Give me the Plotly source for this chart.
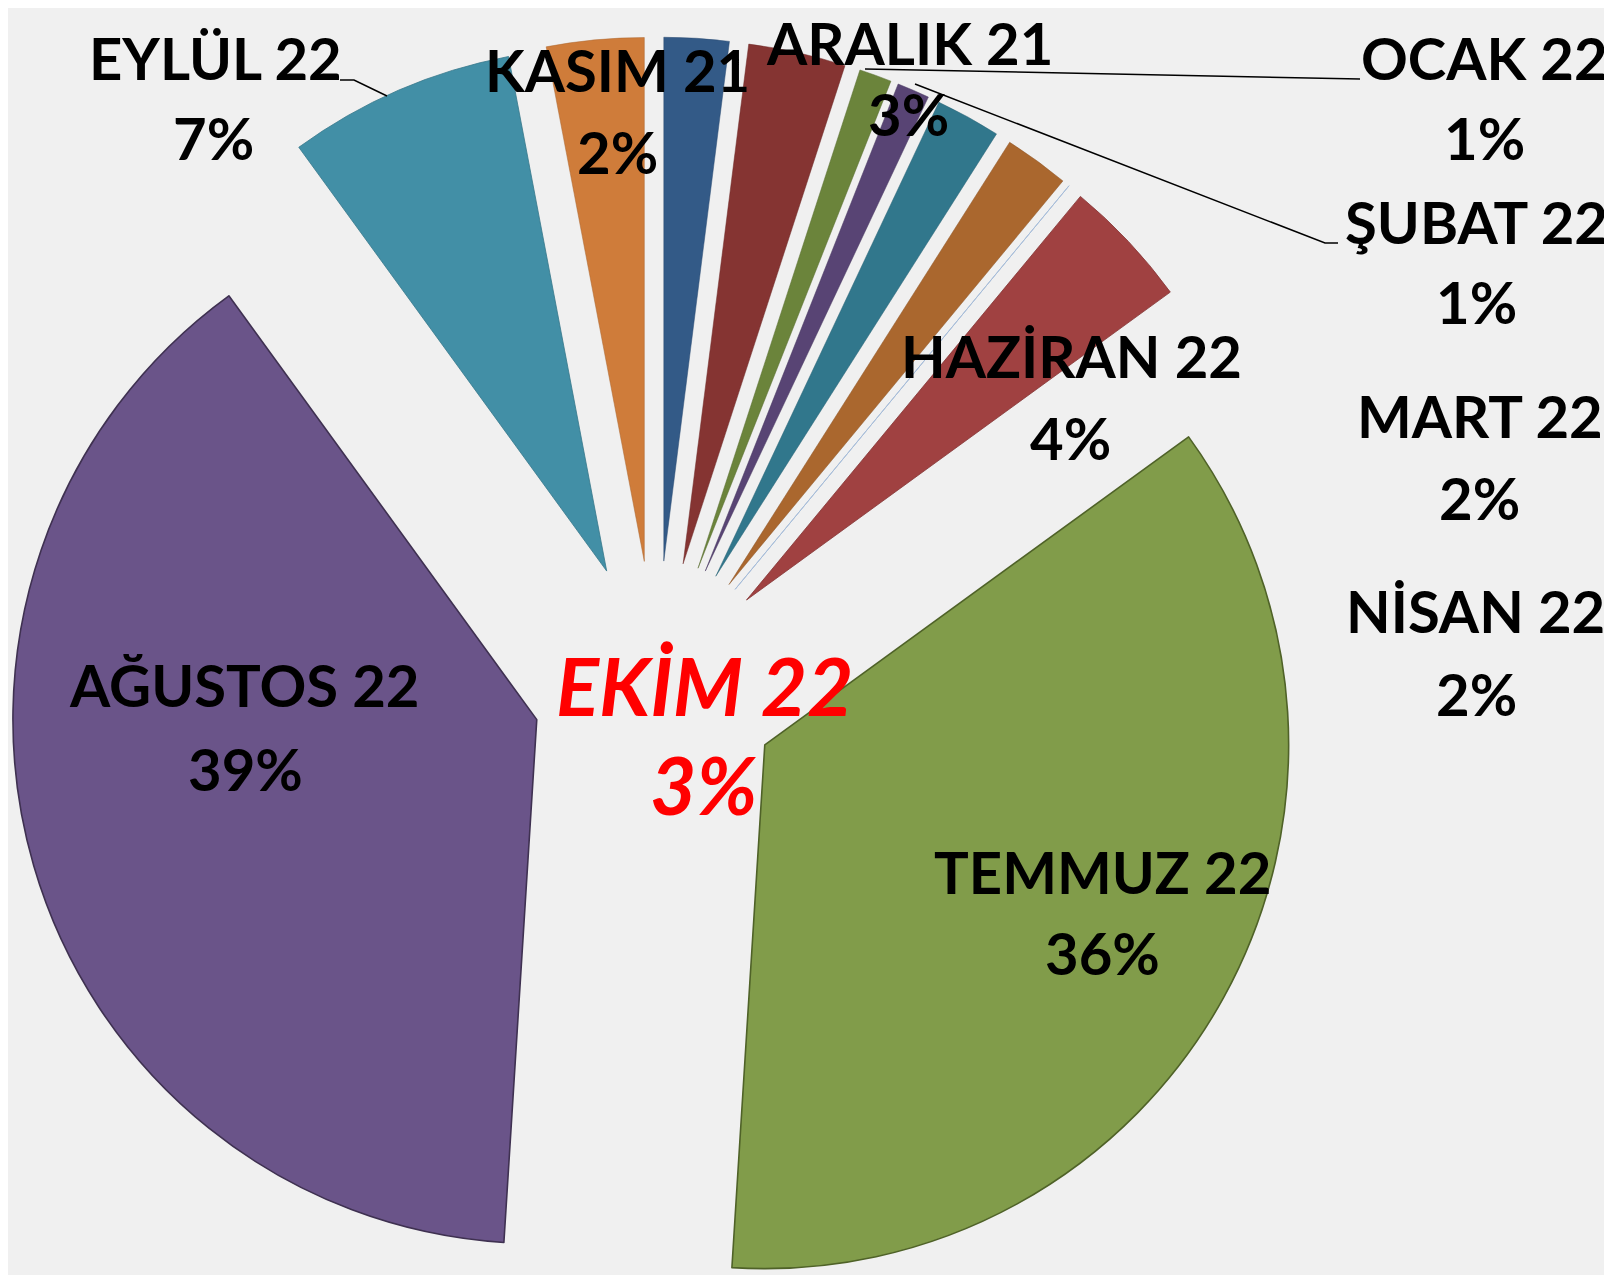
import plotly.graph_objects as go

# ---- data (clockwise from 12 o'clock) ----
months = ["KASIM 21", "ARALIK 21", "OCAK 22", "ŞUBAT 22", "MART 22", "NİSAN 22",
          "MAYIS 22", "HAZİRAN 22", "TEMMUZ 22", "AĞUSTOS 22", "EYLÜL 22", "EKİM 22"]
percent = [2, 3, 1, 1, 2, 2, 0, 4, 36, 39, 7, 3]

# ---- styles ----
colors = ["#335A87", "#853432", "#6B843B", "#584474", "#31778C", "#AA672E",
          "#A7BDD9", "#A04141", "#819C4A", "#6A5489", "#428FA6", "#CF7C3A"]
edge_colors = ["#2A4A70", "#6E2B29", "#586D30", "#483860", "#286274", "#8C5526",
               "#A7BDD9", "#843535", "#4F6228", "#3F3151", "#36778A", "#AB6630"]
edge_widths = [0.5, 0.5, 0.5, 0.5, 0.5, 0.5, 1, 0.8, 1.6, 1.6, 0.8, 0.5]

W, H = 1604, 1325

# label layout in pixels (figure coords): (x_name, y_name, x_pct, y_pct)
label_px = {
    "KASIM 21": (609, 62, 609, 143),
    "ARALIK 21": (901, 34, 900, 106),
    "OCAK 22": (1476, 49, 1476, 130),
    "ŞUBAT 22": (1468, 213, 1468, 293),
    "MART 22": (1472, 408, 1471, 489),
    "NİSAN 22": (1467, 603, 1468, 685),
    "HAZİRAN 22": (1063, 347, 1062, 429),
    "TEMMUZ 22": (1094, 863, 1094, 945),
    "AĞUSTOS 22": (236, 676, 237, 760),
    "EYLÜL 22": (207, 49, 205, 130),
    "EKİM 22": (696, 677, 695, 776),
}
highlight = "EKİM 22"

leader_px = [
    [(332, 72), (346, 72), (379, 88)],        # EYLÜL
    [(857, 61), (1352, 71)],                  # OCAK
    [(907, 76), (1317, 235), (1330, 235)],    # ŞUBAT
]


def px(x, y):
    return x / W, 1 - y / H


fig = go.Figure(go.Pie(
    labels=months, values=percent,
    sort=False, direction="clockwise", rotation=0,
    pull=0.237,
    marker=dict(colors=colors, line=dict(color=edge_colors, width=edge_widths)),
    textinfo="none", hoverinfo="label+percent", showlegend=False,
    domain=dict(x=[0, 1296 / W], y=[0, 1 - 29 / H]),
))

annotations = []
for m, p in zip(months, percent):
    pos = label_px.get(m)
    if pos is None:
        continue
    if m == highlight:
        f = dict(family="Lato", size=80, color="#FF0000", weight="bold", style="italic")
    else:
        f = dict(family="Lato", size=58, color="#000000", weight="bold")
    for txt, (x, y) in ((m, pos[0:2]), (f"{p}%", pos[2:4])):
        xp, yp = px(x, y)
        annotations.append(dict(text=txt, x=xp, y=yp, xref="paper", yref="paper",
                                xanchor="center", yanchor="middle", showarrow=False,
                                font=f))

shapes = []
for pts in leader_px:
    path = "M " + " L ".join(f"{px(x, y)[0]},{px(x, y)[1]}" for x, y in pts)
    shapes.append(dict(type="path", path=path, xref="paper", yref="paper",
                       line=dict(color="#000000", width=1.5)))

fig.update_layout(
    width=W, height=H,
    margin=dict(l=0, r=0, t=0, b=0),
    paper_bgcolor="#F0F0F0", plot_bgcolor="#F0F0F0",
    annotations=annotations, shapes=shapes,
    font=dict(family="Lato"),
)

fig.write_html("out.html")
